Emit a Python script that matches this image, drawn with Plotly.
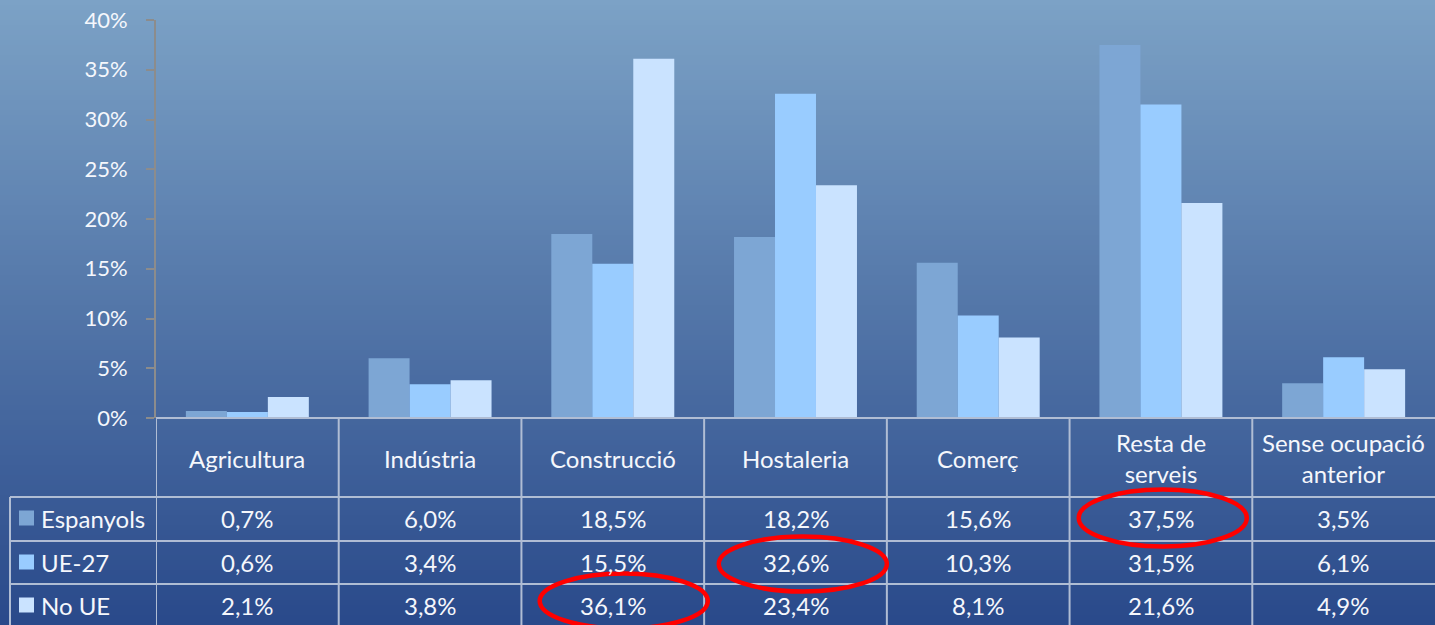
import plotly.graph_objects as go

W, H = 1435, 625

categories = ["Agricultura", "Indústria", "Construcció", "Hostaleria", "Comerç",
              "Resta de serveis", "Sense ocupació anterior"]
category_labels = ["Agricultura", "Indústria", "Construcció", "Hostaleria", "Comerç",
                   "Resta de<br>serveis", "Sense ocupació<br>anterior"]
series_names = ["Espanyols", "UE-27", "No UE"]
espanyols = [0.7, 6.0, 18.5, 18.2, 15.6, 37.5, 3.5]
ue27 = [0.6, 3.4, 15.5, 32.6, 10.3, 31.5, 6.1]
no_ue = [2.1, 3.8, 36.1, 23.4, 8.1, 21.6, 4.9]
series_values = [espanyols, ue27, no_ue]
series_colors = ["rgb(125,166,212)", "rgb(153,204,255)", "rgb(202,227,255)"]
highlights = [(0, 5), (1, 3), (2, 2)]  # (series index, category index) of circled cells
y_ticks = [0, 0.05, 0.10, 0.15, 0.20, 0.25, 0.30, 0.35, 0.40]

# hand-drawn ellipse placement (style): x-shift in category units, y centre px, height px
ellipse_style = [(0.01, 518, 57), (0.04, 564, 55), (0.06, 601, 55)]

FONT = "Lato"
TXT = "rgb(245,247,252)"
LINE = "rgb(176,189,212)"

def px_x(p):
    return p / W

def px_y(p):
    return 1 - p / H

def fmt(v):
    return f"{v:.1f}".replace(".", ",") + "%"

fig = go.Figure()
for name, vals, col in zip(series_names, series_values, series_colors):
    fig.add_trace(go.Bar(x=list(range(len(categories))), y=[v / 100 for v in vals],
                         name=name, marker=dict(color=col, line=dict(width=0)),
                         showlegend=False, hoverinfo="skip"))

shapes = []
# gradient background
top = (124, 162, 198)
bot = (41, 73, 138)
n = 125
for i in range(n):
    t = (i + 0.5) / n
    c = tuple(round(top[k] + (bot[k] - top[k]) * t) for k in range(3))
    shapes.append(dict(type="rect", xref="paper", yref="paper", x0=0, x1=1,
                       y0=1 - (i + 1.05) / n, y1=1 - i / n, layer="below",
                       line=dict(width=0), fillcolor=f"rgb{c}"))

# table geometry (pixels)
y_axis0 = 418
header_bottom = 497
row_lines = [497, 541, 584]
row_centers = [518, 562, 605]
left_x = 10

# table lines
shapes.append(dict(type="line", xref="x", yref="paper", x0=-0.5, x1=6.6,
                   y0=px_y(y_axis0), y1=px_y(y_axis0), line=dict(color=LINE, width=2)))
for ry in row_lines:
    shapes.append(dict(type="line", xref="paper", yref="paper", x0=px_x(left_x), x1=1,
                       y0=px_y(ry), y1=px_y(ry), line=dict(color=LINE, width=2)))
shapes.append(dict(type="line", xref="paper", yref="paper", x0=px_x(left_x), x1=px_x(left_x),
                   y0=px_y(header_bottom), y1=0, line=dict(color=LINE, width=2)))
for i in range(len(categories)):
    shapes.append(dict(type="line", xref="x", yref="paper", x0=i - 0.5, x1=i - 0.5,
                       y0=px_y(y_axis0), y1=0, line=dict(color=LINE, width=2)))

annotations = []
for i, lab in enumerate(category_labels):
    annotations.append(dict(x=i, xref="x", y=px_y(458), yref="paper", text=lab,
                            showarrow=False, xanchor="center", yanchor="middle",
                            font=dict(family=FONT, size=24, color=TXT)))
for s, (name, vals, col) in enumerate(zip(series_names, series_values, series_colors)):
    cy = row_centers[s]
    shapes.append(dict(type="rect", xref="paper", yref="paper", x0=px_x(19), x1=px_x(34),
                       y0=px_y(cy + 7.5), y1=px_y(cy - 7.5), line=dict(width=0), fillcolor=col))
    annotations.append(dict(x=px_x(39), xref="paper", y=px_y(cy), yref="paper", text=name,
                            showarrow=False, xanchor="left", yanchor="middle",
                            font=dict(family=FONT, size=24, color=TXT)))
    for i, v in enumerate(vals):
        annotations.append(dict(x=i, xref="x", y=px_y(cy), yref="paper", text=fmt(v),
                                showarrow=False, xanchor="center", yanchor="middle",
                                font=dict(family=FONT, size=24, color=TXT)))

# red ellipses
for (s, i), (dx, cy, h) in zip(highlights, ellipse_style):
    shapes.append(dict(type="circle", xref="x", yref="paper", x0=i + dx - 0.46, x1=i + dx + 0.46,
                       y0=px_y(cy + h / 2), y1=px_y(cy - h / 2),
                       line=dict(color="rgb(255,0,0)", width=4.5)))

fig.update_layout(
    width=W, height=H, autosize=False,
    margin=dict(l=0, r=0, t=0, b=0, pad=0, autoexpand=False),
    paper_bgcolor="rgb(80,110,160)",
    plot_bgcolor="rgba(0,0,0,0)",
    barmode="group", bargap=0.327, bargroupgap=0,
    shapes=shapes, annotations=annotations,
    xaxis=dict(domain=[px_x(156), 1], range=[-0.5, 6.5], showticklabels=False,
               showgrid=False, zeroline=False, showline=False, ticks="", automargin=False),
    yaxis=dict(domain=[1 - y_axis0 / H, 1 - 20 / H], range=[0, 0.4], automargin=False,
               tickvals=y_ticks, tickformat=".0%", showgrid=False, zeroline=False,
               showline=True, linecolor="rgb(140,140,140)", linewidth=2,
               ticks="outside", ticklen=8, tickwidth=2, tickcolor="rgb(140,140,140)",
               ticklabelstandoff=14,
               tickfont=dict(family=FONT, size=22, color=TXT)),
    font=dict(family=FONT),
)

fig.write_html("out.html", config={"displayModeBar": False},
               post_script="document.body.style.margin='0';document.body.style.overflow='hidden';")
